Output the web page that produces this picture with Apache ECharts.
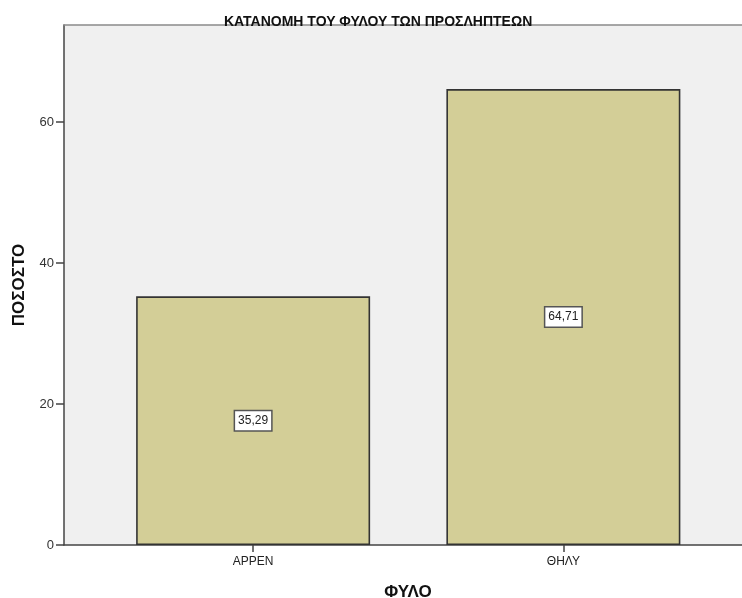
<!DOCTYPE html>
<html><head><meta charset="utf-8">
<script src="https://cdn.jsdelivr.net/npm/echarts@6/dist/echarts.min.js"></script>
<style>html,body{margin:0;padding:0;background:#fff}#c{width:742px;height:598px}</style>
</head><body><div id="c"></div>
<script>
var titleText = 'ΚΑΤΑΝΟΜΗ ΤΟΥ ΦΥΛΟΥ ΤΩΝ ΠΡΟΣΛΗΠΤΕΩΝ';
var categories = ['APPEN', 'ΘΗΛΥ'];
var percentValues = [35.29, 64.71];
var xAxisName = 'ΦΥΛΟ';
var yAxisName = 'ΠΟΣΟΣΤΟ';

var chart = echarts.init(document.getElementById('c'), null, {renderer: 'canvas'});
var fontFam = 'Liberation Sans, Arial, sans-serif';
chart.setOption({
  animation: false,
  title: {
    text: titleText, left: 219, top: 10,
    textStyle: {fontFamily: 'Liberation Sans, Arial, sans-serif', fontSize: 14, fontWeight: 'bold', color: '#111'}
  },
  grid: [
    {left: 64, right: -10, top: 25, bottom: 53, show: true, backgroundColor: '#f0f0f0', borderWidth: 0,
     containLabel: false, outerBoundsMode: 'none'},
    {left: 98, right: 23.5, top: 25, bottom: 53, show: false, containLabel: false, outerBoundsMode: 'none'}
  ],
  xAxis: [
    {gridIndex: 0, type: 'value', min: 0, max: 1, position: 'bottom',
     name: xAxisName, nameLocation: 'middle', nameGap: 39,
     nameTextStyle: {fontFamily: fontFam, fontSize: 17, fontWeight: 'bold', color: '#111'},
     axisLine: {show: true, lineStyle: {color: '#444', width: 1.5}},
     axisTick: {show: false}, axisLabel: {show: false}, splitLine: {show: false}},
    {gridIndex: 0, type: 'value', min: 0, max: 1, position: 'top',
     axisLine: {show: true, lineStyle: {color: '#8a8a8a', width: 1.5}},
     axisTick: {show: false}, axisLabel: {show: false}, splitLine: {show: false}},
    {gridIndex: 1, type: 'category', data: categories, position: 'bottom',
     axisLine: {show: false},
     axisTick: {show: true, alignWithLabel: true, length: 7, lineStyle: {color: '#444', width: 1.5}},
     axisLabel: {fontFamily: fontFam, fontSize: 12, color: '#222', margin: 11},
     splitLine: {show: false}}
  ],
  yAxis: [
    {gridIndex: 0, type: 'value', min: 0, max: 73.8, interval: 20,
     name: yAxisName, nameLocation: 'middle', nameGap: 36,
     nameTextStyle: {fontFamily: fontFam, fontSize: 17, fontWeight: 'bold', color: '#111'},
     axisLine: {show: true, lineStyle: {color: '#444', width: 1.5}},
     axisTick: {show: true, length: 8, lineStyle: {color: '#444', width: 1.5}},
     axisLabel: {fontFamily: fontFam, fontSize: 13, color: '#333', margin: 10,
       showMaxLabel: false},
     splitLine: {show: false}},
    {gridIndex: 1, type: 'value', min: 0, max: 73.8, show: false, splitLine: {show: false}}
  ],
  series: [{
    type: 'bar', xAxisIndex: 2, yAxisIndex: 1,
    data: percentValues, barWidth: 234,
    itemStyle: {color: '#d3ce97', borderColor: '#333', borderWidth: 1.6},
    label: {
      show: true, position: 'inside',
      formatter: function (p) { return p.value.toFixed(2).replace('.', ','); },
      fontFamily: fontFam, fontSize: 12, color: '#222',
      backgroundColor: '#fff', borderColor: '#555', borderWidth: 1.5,
      padding: [4, 3, 3, 3]
    }
  }]
});
</script></body></html>
